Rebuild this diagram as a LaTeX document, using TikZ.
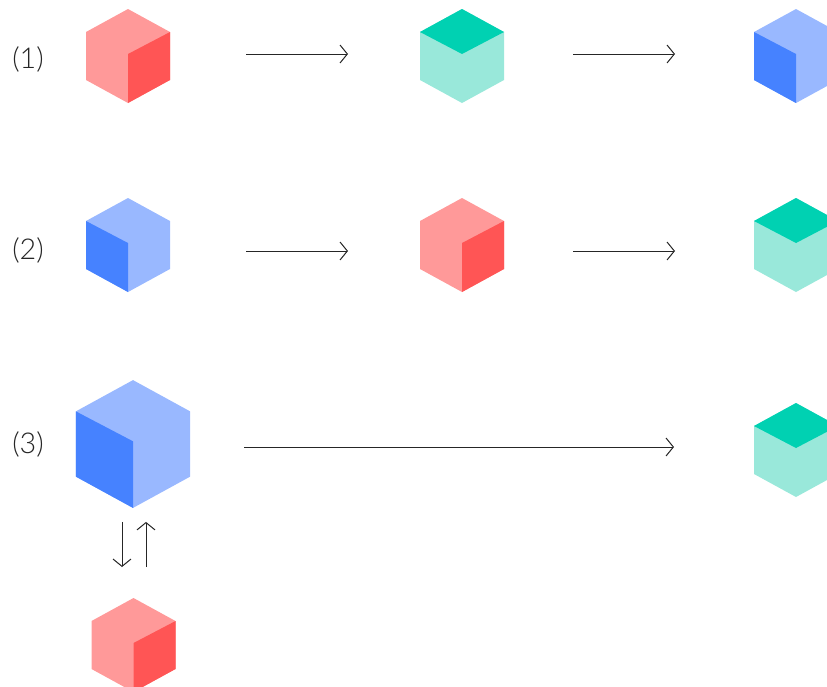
\documentclass[tikz,border=0pt]{standalone}
\usepackage{fontspec}
\usepackage{xcolor}
\usetikzlibrary{arrows.meta}
\setmainfont{Lato Light}

\definecolor{redlight}{HTML}{FF9999}
\definecolor{reddark}{HTML}{FF5555}
\definecolor{greenlight}{HTML}{99E8DA}
\definecolor{greendark}{HTML}{00D1B2}
\definecolor{bluelight}{HTML}{99B8FF}
\definecolor{bluedark}{HTML}{4682FF}

% one cube is 84 x 94 units, drawn around its centre
\newcommand{\cubehull}[1]{
    \node[cubebox] (-box) {};
    \fill[#1] (0,-47) -- (42,-24) -- (42,24) -- (0,47) -- (-42,24) -- (-42,-24) -- cycle;
}

\tikzset{
    cubebox/.style={minimum width=63pt, minimum height=70.5pt, inner sep=0pt, outer sep=0pt, transform shape},
    flow/.style={draw=black!85, line width=0.75pt, -{Straight Barb[length=5.5pt, width=13.5pt, line width=0.75pt]}},
    rowlabel/.style={text=black!85, font=\fontsize{21.5pt}{24pt}\selectfont},
    pics/redcube/.style={code={
        \cubehull{redlight}
        \fill[reddark] (0,-2) -- (42,-24) -- (42,24) -- (0,47) -- cycle;
    }},
    pics/greencube/.style={code={
        \cubehull{greenlight}
        \fill[greendark] (0,-47) -- (42,-24) -- (0,-2) -- (-42,-24) -- cycle;
    }},
    pics/bluecube/.style={code={
        \cubehull{bluelight}
        \fill[bluedark] (0,-2) -- (-42,-24) -- (-42,24) -- (0,47) -- cycle;
    }}
}

\begin{document}
\begin{tikzpicture}[x=0.75pt, y=-0.75pt]
    \clip (0,0) rectangle (827,686);

    % Row labels
    \node[rowlabel] (label1) at (28,59) {(1)};
    \node[rowlabel] (label2) at (28,250) {(2)};
    \node[rowlabel] (label3) at (28,444) {(3)};

    % Row 1
    \pic (cubeA) at (128,56) {redcube};
    \pic (cubeB) at (462,56) {greencube};
    \pic (cubeC) at (796,56) {bluecube};

    % Row 2
    \pic (cubeD) at (128,245) {bluecube};
    \pic (cubeE) at (462,245) {redcube};
    \pic (cubeF) at (796,245) {greencube};

    % Row 3
    \pic[scale=1.36] (cubeG) at (133,444) {bluecube};
    \pic (cubeH) at (796,450) {greencube};
    \pic (cubeI) at (133.5,645) {redcube};

    % Arrows between the cubes
    \draw[flow] ([shift={(76,-2)}]cubeA-box.east) -- ([shift={(-72,-2)}]cubeB-box.west);
    \draw[flow] ([shift={(69,-2)}]cubeB-box.east) -- ([shift={(-79,-2)}]cubeC-box.west);
    \draw[flow] ([shift={(76,6)}]cubeD-box.east) -- ([shift={(-72,6)}]cubeE-box.west);
    \draw[flow] ([shift={(69,6)}]cubeE-box.east) -- ([shift={(-79,6)}]cubeF-box.west);
    \draw[flow] ([shift={(54,3)}]cubeG-box.east) -- ([shift={(-80,-3)}]cubeH-box.west);

    % Exchange between the two cubes of row 3
    \draw[flow] ([shift={(-11,14)}]cubeG-box.south) -- ([shift={(-11.5,-31)}]cubeI-box.north);
    \draw[flow] ([shift={(12.5,-31)}]cubeI-box.north) -- ([shift={(13,14)}]cubeG-box.south);
\end{tikzpicture}
\end{document}
